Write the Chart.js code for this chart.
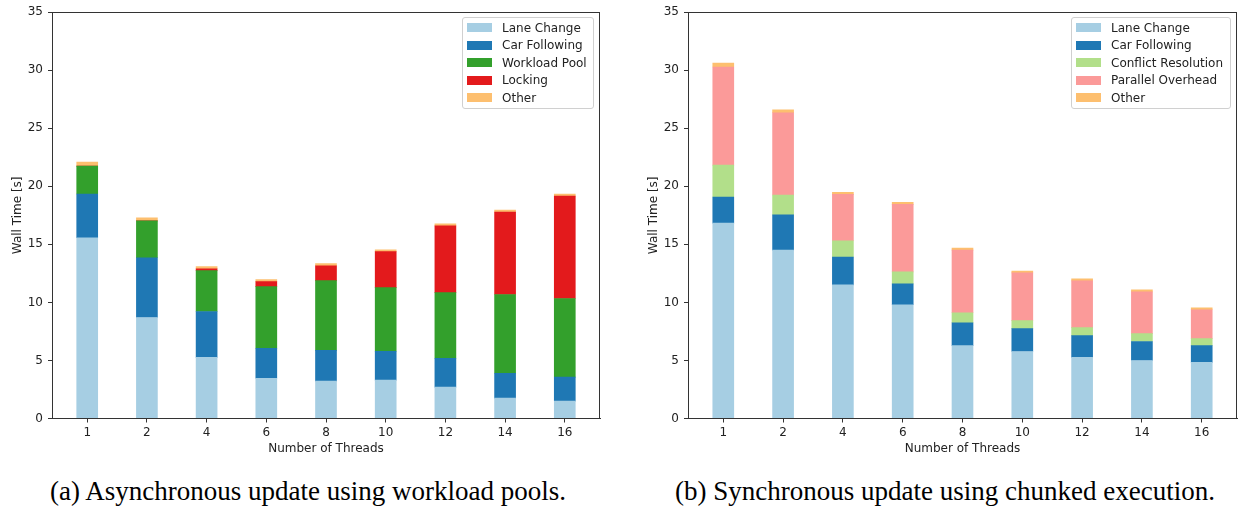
<!DOCTYPE html>
<html>
<head>
<meta charset="utf-8">
<script src="https://cdn.jsdelivr.net/npm/chart.js@4.4.0/dist/chart.umd.min.js"></script>
<style>
  body { margin: 0; width: 1239px; height: 512px; background: #fff; position: relative; overflow: hidden; font-family: "DejaVu Sans", sans-serif; }
  canvas { position: absolute; top: 0; }
  #chartA { left: 0; }
  #chartB { left: 636px; }
  .legend { position: absolute; box-sizing: border-box; border: 1px solid #d0d0d0; border-radius: 3px; background: rgba(255,255,255,0.85); padding: 1px 0 0 4px; font-size: 12px; color: #222; }
  .legend .row { height: 17.5px; display: flex; align-items: center; white-space: nowrap; }
  .legend .sw { width: 25px; height: 9px; margin-right: 10px; flex: none; }
  .caption { position: absolute; top: 476px; font-family: "Liberation Serif", "Times New Roman", serif; font-size: 27px; color: #000; white-space: nowrap; transform: translateX(-50%); }
</style>
</head>
<body>
<canvas id="chartA" width="615" height="470"></canvas>
<canvas id="chartB" width="603" height="470"></canvas>
<div class="legend" id="legendA" style="left:462px; top:17px; width:132px; height:92px;"></div>
<div class="legend" id="legendB" style="left:1071px; top:17px; width:160px; height:92px;"></div>
<div class="caption" style="left:308px;">(a) Asynchronous update using workload pools.</div>
<div class="caption" style="left:945px;">(b) Synchronous update using chunked execution.</div>
<script>
const threads = ["1", "2", "4", "6", "8", "10", "12", "14", "16"];
const yTicks = [0, 5, 10, 15, 20, 25, 30, 35];

// (a) asynchronous, workload pools
const laneChangeA = [15.57, 8.70, 5.27, 3.47, 3.22, 3.30, 2.70, 1.76, 1.50];
const carFollowingA = [3.77, 5.15, 3.95, 2.58, 2.65, 2.49, 2.49, 2.14, 2.06];
const workloadPoolA = [2.40, 3.17, 3.52, 5.31, 6.01, 5.49, 5.66, 6.78, 6.78];
const lockingA = [0, 0, 0.16, 0.43, 1.28, 3.09, 5.74, 7.11, 8.82];
const otherA = [0.34, 0.26, 0.18, 0.17, 0.18, 0.17, 0.18, 0.16, 0.17];

// (b) synchronous, chunked execution
const laneChangeB = [16.83, 14.51, 11.51, 9.80, 6.28, 5.77, 5.26, 5.00, 4.83];
const carFollowingB = [2.25, 3.03, 2.40, 1.80, 1.97, 1.97, 1.88, 1.63, 1.45];
const conflictB = [2.74, 1.71, 1.40, 1.03, 0.86, 0.69, 0.69, 0.68, 0.60];
const overheadB = [8.46, 7.09, 4.00, 5.82, 5.40, 4.11, 4.03, 3.60, 2.49];
const otherB = [0.34, 0.26, 0.17, 0.17, 0.17, 0.17, 0.17, 0.17, 0.17];

const seriesA = [
  { label: "Lane Change", data: laneChangeA, color: "#a6cee3" },
  { label: "Car Following", data: carFollowingA, color: "#1f78b4" },
  { label: "Workload Pool", data: workloadPoolA, color: "#33a02c" },
  { label: "Locking", data: lockingA, color: "#e31a1c" },
  { label: "Other", data: otherA, color: "#fdbf6f" },
];
const seriesB = [
  { label: "Lane Change", data: laneChangeB, color: "#a6cee3" },
  { label: "Car Following", data: carFollowingB, color: "#1f78b4" },
  { label: "Conflict Resolution", data: conflictB, color: "#b2df8a" },
  { label: "Parallel Overhead", data: overheadB, color: "#fb9a99" },
  { label: "Other", data: otherB, color: "#fdbf6f" },
];

const font = { family: "DejaVu Sans", size: 12 };
const axisColor = "#333";

// matplotlib-like box around the plot area
const spines = {
  id: "spines",
  afterDraw(chart) {
    const a = chart.chartArea;
    const ctx = chart.ctx;
    ctx.save();
    ctx.strokeStyle = axisColor;
    ctx.lineWidth = 1;
    ctx.strokeRect(Math.round(a.left) + 0.5, Math.round(a.top) + 0.5, Math.round(a.right - a.left) - 1, Math.round(a.bottom - a.top));
    ctx.restore();
  },
};

function createChart(id, series, padRight) {
  const ctx = document.getElementById(id).getContext("2d");
  return new Chart(ctx, {
    type: "bar",
    data: {
      datasets: series.map((s) => ({
        label: s.label,
        data: s.data.map((v, i) => ({ x: i, y: v })),
        backgroundColor: s.color,
        borderWidth: 0,
        barThickness: 21,
      })),
    },
    options: {
      responsive: false,
      animation: false,
      layout: { padding: { top: 10, right: padRight, left: 0, bottom: 0 } },
      plugins: { legend: { display: false }, tooltip: { enabled: false } },
      scales: {
        x: {
          type: "linear",
          stacked: true,
          min: -0.59,
          max: 8.59,
          offset: false,
          afterBuildTicks: (scale) => {
            scale.ticks = threads.map((_, i) => ({ value: i }));
          },
          afterFit: (scale) => { scale.height = 51.5; },
          ticks: {
            callback: (v) => threads[v],
            font: font,
            color: "#222",
            padding: 3,
            maxRotation: 0,
          },
          grid: { offset: false, drawOnChartArea: false, drawTicks: true, tickLength: 4, color: axisColor },
          border: { display: true, color: axisColor, width: 1 },
          title: { display: true, text: "Number of Threads", font: font, color: "#222", padding: { top: 0, bottom: 14 } },
        },
        y: {
          stacked: true,
          min: 0,
          max: 35,
          afterBuildTicks: (scale) => {
            scale.ticks = yTicks.map((v) => ({ value: v }));
          },
          afterFit: (scale) => { scale.width = 52; },
          ticks: { font: font, color: "#222", padding: 5 },
          grid: { drawOnChartArea: false, drawTicks: true, tickLength: 4, color: axisColor },
          border: { display: true, color: axisColor, width: 1 },
          title: { display: true, text: "Wall Time [s]", font: font, color: "#222", padding: { top: 11, bottom: 0 } },
        },
      },
    },
    plugins: [spines],
  });
}

function buildLegend(id, series) {
  const el = document.getElementById(id);
  series.forEach((s) => {
    const row = document.createElement("div");
    row.className = "row";
    const sw = document.createElement("span");
    sw.className = "sw";
    sw.style.background = s.color;
    const txt = document.createElement("span");
    txt.textContent = s.label;
    row.appendChild(sw);
    row.appendChild(txt);
    el.appendChild(row);
  });
}

createChart("chartA", seriesA, 15);
createChart("chartB", seriesB, 2);
buildLegend("legendA", seriesA);
buildLegend("legendB", seriesB);
</script>
</body>
</html>
